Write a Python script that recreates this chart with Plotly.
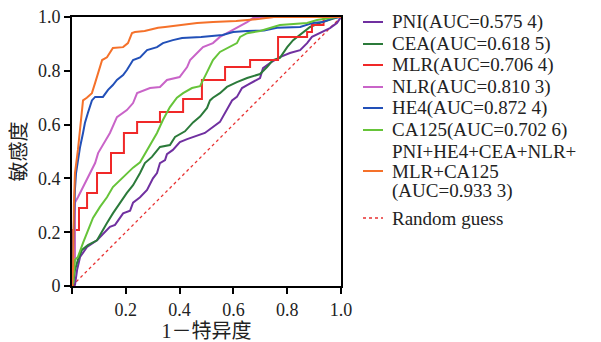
import plotly.graph_objects as go

# ---------------- data ----------------
pni_fpr = [0, 0.011, 0.019, 0.030, 0.056, 0.093, 0.141, 0.160, 0.190, 0.216, 0.227, 0.253, 0.279, 0.301,
           0.316, 0.327, 0.346, 0.353, 0.375, 0.401, 0.428, 0.476, 0.494, 0.550, 0.569, 0.580, 0.595, 0.613,
           0.632, 0.651, 0.673, 0.699, 0.710, 0.736, 0.773, 0.810, 0.848, 0.874, 0.892, 0.922, 0.959, 0.985, 1.0]
pni_tpr = [0, 0.004, 0.060, 0.108, 0.145, 0.170, 0.220, 0.227, 0.270, 0.280, 0.310, 0.330, 0.357, 0.400,
           0.420, 0.457, 0.468, 0.490, 0.506, 0.535, 0.546, 0.561, 0.569, 0.610, 0.643, 0.665, 0.690, 0.703,
           0.736, 0.747, 0.758, 0.773, 0.810, 0.829, 0.851, 0.866, 0.877, 0.903, 0.926, 0.940, 0.959, 0.978, 1.0]

cea_fpr = [0, 0.004, 0.011, 0.022, 0.037, 0.059, 0.093, 0.104, 0.130, 0.152, 0.178, 0.204, 0.227, 0.253,
           0.271, 0.297, 0.327, 0.364, 0.383, 0.420, 0.450, 0.476, 0.502, 0.513, 0.524, 0.550, 0.576, 0.613,
           0.651, 0.699, 0.725, 0.747, 0.773, 0.800, 0.822, 0.848, 0.885, 0.922, 0.959, 0.990, 1.0]
cea_tpr = [0, 0.004, 0.060, 0.097, 0.134, 0.152, 0.170, 0.190, 0.234, 0.270, 0.310, 0.346, 0.375, 0.420,
           0.457, 0.480, 0.517, 0.524, 0.554, 0.575, 0.608, 0.630, 0.662, 0.690, 0.700, 0.717, 0.740, 0.758,
           0.773, 0.788, 0.814, 0.840, 0.848, 0.888, 0.914, 0.933, 0.963, 0.978, 0.989, 1.0, 1.0]

mlr_fpr = [0, 0.004, 0.026, 0.056, 0.093, 0.145, 0.193, 0.242, 0.327, 0.413, 0.483, 0.569, 0.662, 0.766,
           0.874, 0.892, 0.935, 1.0]
mlr_tpr = [0, 0.208, 0.290, 0.346, 0.420, 0.494, 0.569, 0.610, 0.647, 0.695, 0.766, 0.814, 0.840, 0.926,
           0.944, 0.970, 1.0, 1.0]

nlr_fpr = [0, 0.004, 0.011, 0.011, 0.022, 0.041, 0.067, 0.086, 0.097, 0.141, 0.167, 0.204, 0.227, 0.242,
           0.290, 0.327, 0.353, 0.400, 0.428, 0.439, 0.465, 0.487, 0.524, 0.550, 0.576, 0.613, 0.651, 0.673,
           0.750, 1.0]
nlr_tpr = [0, 0.060, 0.100, 0.310, 0.330, 0.368, 0.420, 0.457, 0.494, 0.569, 0.628, 0.654, 0.680, 0.717,
           0.736, 0.740, 0.766, 0.777, 0.814, 0.840, 0.866, 0.888, 0.903, 0.926, 0.940, 0.960, 0.981, 0.996,
           1.0, 1.0]

he4_fpr = [0, 0.004, 0.008, 0.011, 0.015, 0.019, 0.030, 0.041, 0.048, 0.059, 0.067, 0.074, 0.086, 0.115,
           0.134, 0.152, 0.167, 0.190, 0.204, 0.227, 0.253, 0.279, 0.316, 0.338, 0.375, 0.409, 0.480, 0.560,
           0.599, 0.650, 0.714, 0.762, 0.848, 0.896, 0.933, 0.970, 1.0]
he4_tpr = [0, 0.150, 0.300, 0.360, 0.420, 0.450, 0.517, 0.569, 0.606, 0.643, 0.665, 0.690, 0.703, 0.703,
           0.729, 0.747, 0.766, 0.784, 0.803, 0.840, 0.850, 0.877, 0.888, 0.903, 0.914, 0.922, 0.926, 0.933,
           0.944, 0.948, 0.950, 0.960, 0.963, 0.978, 0.981, 0.996, 1.0]

ca125_fpr = [0, 0.004, 0.011, 0.022, 0.041, 0.059, 0.078, 0.104, 0.130, 0.152, 0.178, 0.204, 0.227, 0.253,
             0.279, 0.316, 0.338, 0.364, 0.390, 0.413, 0.446, 0.476, 0.502, 0.524, 0.550, 0.613, 0.625, 0.651,
             0.699, 0.773, 0.874, 0.911, 0.985, 1.0]
ca125_tpr = [0, 0.011, 0.097, 0.108, 0.160, 0.208, 0.253, 0.294, 0.330, 0.368, 0.394, 0.420, 0.440, 0.460,
             0.506, 0.569, 0.617, 0.665, 0.700, 0.717, 0.736, 0.743, 0.795, 0.840, 0.870, 0.903, 0.926, 0.940,
             0.948, 0.970, 0.978, 0.989, 1.0, 1.0]

comb_fpr = [0, 0.004, 0.007, 0.011, 0.022, 0.030, 0.037, 0.041, 0.055, 0.074, 0.086, 0.097, 0.112, 0.130,
            0.152, 0.190, 0.208, 0.223, 0.234, 0.270, 0.320, 0.346, 0.401, 0.465, 0.524, 0.610, 0.699, 0.750, 1.0]
comb_tpr = [0, 0.070, 0.300, 0.420, 0.506, 0.590, 0.636, 0.690, 0.700, 0.717, 0.755, 0.795, 0.840, 0.850,
            0.885, 0.888, 0.903, 0.940, 0.944, 0.948, 0.960, 0.963, 0.970, 0.978, 0.981, 0.985, 0.993, 1.0, 1.0]

random_x = [0, 1]
random_y = [0, 1]

legend_labels = [
    ["PNI(AUC=0.575 4)"],
    ["CEA(AUC=0.618 5)"],
    ["MLR(AUC=0.706 4)"],
    ["NLR(AUC=0.810 3)"],
    ["HE4(AUC=0.872 4)"],
    ["CA125(AUC=0.702 6)"],
    ["PNI+HE4+CEA+NLR+", "MLR+CA125", "(AUC=0.933 3)"],
    ["Random guess"],
]

x_tickvals = [0, 0.2, 0.4, 0.6, 0.8, 1.0]
x_ticktext = ["", "0.2", "0.4", "0.6", "0.8", "1.0"]
y_tickvals = [0, 0.2, 0.4, 0.6, 0.8, 1.0]
y_ticktext = ["0", "0.2", "0.4", "0.6", "0.8", "1.0"]

# ---------------- styles ----------------
colors = ["#7030A0", "#2B7A3A", "#F02828", "#C964C8", "#2250B8", "#66C439", "#F5712A", "#E83030"]
series = [
    (pni_fpr, pni_tpr, "linear"),
    (cea_fpr, cea_tpr, "linear"),
    (mlr_fpr, mlr_tpr, "hv"),
    (nlr_fpr, nlr_tpr, "linear"),
    (he4_fpr, he4_tpr, "linear"),
    (ca125_fpr, ca125_tpr, "linear"),
    (comb_fpr, comb_tpr, "linear"),
]
SERIF = "Liberation Serif, Times New Roman, serif"
CJK = "Liberation Serif, Noto Sans CJK SC, sans-serif"

fig = go.Figure()

fig.add_trace(go.Scatter(x=random_x, y=random_y, mode="lines",
                         line=dict(color=colors[7], width=1.3, dash="dot"),
                         name=" ".join(legend_labels[7]), showlegend=False, hoverinfo="skip"))

for (fx, ty, shape), col, lab in zip(series, colors, legend_labels):
    assert len(fx) == len(ty)
    fig.add_trace(go.Scatter(x=fx, y=ty, mode="lines", line=dict(color=col, width=2, shape=shape),
                             name="".join(lab), showlegend=False))

# ---------------- layout geometry ----------------
# The page adds an 8 px body margin, so the figure is drawn 8 px smaller and offset.
PAGE_W, PAGE_H, OFF = 601, 342, 8
W, H = PAGE_W - OFF, PAGE_H - OFF
PLOT_X0, PLOT_X1, PLOT_Y0, PLOT_Y1 = 72, 341, 17, 286   # plot box in page pixels
L, R = PLOT_X0 - OFF, W - (PLOT_X1 - OFF)
T, B = PLOT_Y0 - OFF, H - (PLOT_Y1 - OFF)
pw, ph = PLOT_X1 - PLOT_X0, PLOT_Y1 - PLOT_Y0


def px_x(p):
    return (p - PLOT_X0) / pw


def px_y(p):
    return (PLOT_Y1 - p) / ph


# ---------------- manual legend (tight line spacing as in the reference) ----------------
row_tops = [22, 44, 65, 87, 108, 130, 151, 218]
line_gap = 20
for lab, col, top, i in zip(legend_labels, colors, row_tops, range(len(legend_labels))):
    mid_line = top + line_gap * (len(lab) - 1) / 2
    fig.add_shape(type="line", xref="paper", yref="paper",
                  x0=px_x(363), x1=px_x(383), y0=px_y(mid_line), y1=px_y(mid_line),
                  line=dict(color=col, width=2 if i < 7 else 1.3, dash="solid" if i < 7 else "dot"))
    for k, t in enumerate(lab):
        fig.add_annotation(xref="paper", yref="paper", x=px_x(391), y=px_y(top + k * line_gap),
                           xanchor="left", yanchor="middle", text=t, showarrow=False, borderpad=0,
                           font=dict(family=SERIF, size=19, color="#222222"))

axis_common = dict(range=[0, 1], showline=True, linecolor="black", linewidth=2, mirror=True,
                   ticks="outside", ticklen=6, tickwidth=2, tickcolor="black", showgrid=False,
                   zeroline=False, automargin=False, ticklabeloverflow="allow",
                   tickfont=dict(family=SERIF, size=18, color="#222222"))

fig.update_layout(
    width=W, height=H,
    margin=dict(l=L, r=R, t=T, b=B, pad=0, autoexpand=False),
    paper_bgcolor="white", plot_bgcolor="white",
    showlegend=False,
    xaxis=dict(**axis_common, tickvals=x_tickvals, ticktext=x_ticktext,
               title=dict(text="1－特异度", font=dict(family=CJK, size=20, color="#222222"), standoff=3)),
    yaxis=dict(**axis_common, tickvals=y_tickvals, ticktext=y_ticktext,
               title=dict(text="敏感度", font=dict(family=CJK, size=20, color="#222222"), standoff=8)),
)

fig.write_html("out.html")
